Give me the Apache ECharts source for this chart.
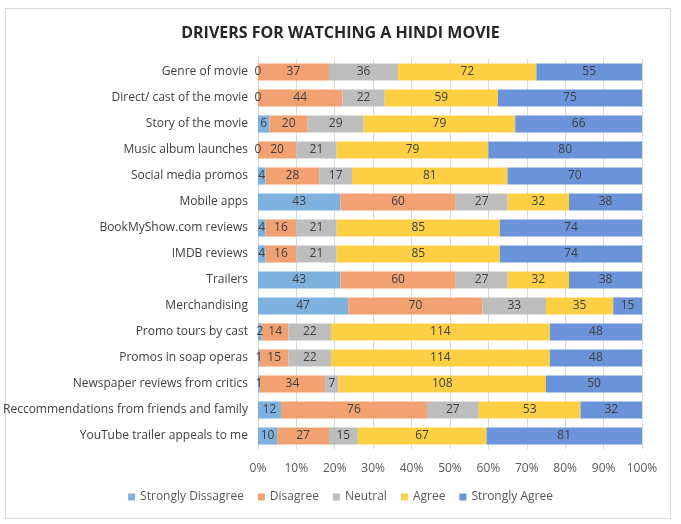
<!DOCTYPE html>
<html style="height: 100%">
<head>
<meta charset="utf-8">
</head>
<body style="height: 100%; margin: 0; background: #fff">
<div id="frame" style="position:absolute; left:5px; top:8px; width:666px; height:511px; border:1px solid #d9d9d9; box-sizing:border-box"></div>
<div id="container" style="position:absolute; left:0; top:0; width:681px; height:524px"></div>
<script type="text/javascript" src="https://cdn.jsdelivr.net/npm/echarts@6/dist/echarts.min.js"></script>
<script type="text/javascript">
var categories = [
    'Genre of movie',
    'Direct/ cast of the movie',
    'Story of the movie',
    'Music album launches',
    'Social media promos',
    'Mobile apps',
    'BookMyShow.com reviews',
    'IMDB reviews',
    'Trailers',
    'Merchandising',
    'Promo tours by cast',
    'Promos in soap operas',
    'Newspaper reviews from critics',
    'Reccommendations from friends and family',
    'YouTube trailer appeals to me'
];
var stronglyDisagree = [0, 0, 6, 0, 4, 43, 4, 4, 43, 47, 2, 1, 1, 12, 10];
var disagree         = [37, 44, 20, 20, 28, 60, 16, 16, 60, 70, 14, 15, 34, 76, 27];
var neutral          = [36, 22, 29, 21, 17, 27, 21, 21, 27, 33, 22, 22, 7, 27, 15];
var agree            = [72, 59, 79, 79, 81, 32, 85, 85, 32, 35, 114, 114, 108, 53, 67];
var stronglyAgree    = [55, 75, 66, 80, 70, 38, 74, 74, 38, 15, 48, 48, 50, 32, 81];
var seriesNames = ['Strongly Dissagree', 'Disagree', 'Neutral', 'Agree', 'Strongly Agree'];
var colors = ['#7fb1df', '#f2a272', '#bdbdbd', '#fdcf45', '#6b93da'];

var raw = [stronglyDisagree, disagree, neutral, agree, stronglyAgree];
var totals = categories.map(function (c, i) {
    return raw.reduce(function (s, arr) { return s + arr[i]; }, 0);
});

var dom = document.getElementById('container');
var myChart = echarts.init(dom);

var series = raw.map(function (arr, k) {
    return {
        name: seriesNames[k],
        type: 'bar',
        stack: 'total',
        barWidth: '66%',
        itemStyle: { color: colors[k] },
        label: {
            show: true,
            position: 'inside',
            color: '#404040',
            fontSize: 12,
            fontFamily: 'Open Sans',
            formatter: function (p) { return arr[p.dataIndex]; }
        },
        data: arr.map(function (v, i) { return v / totals[i] * 100; })
    };
});

var option = {
    animation: false,
    title: {
        text: 'DRIVERS FOR WATCHING A HINDI MOVIE',
        left: 'center',
        top: 20,
        textStyle: {
            fontFamily: 'Open Sans',
            fontSize: 16,
            fontWeight: 'bold',
            color: '#262626'
        }
    },
    legend: {
        bottom: 16,
        left: 'center',
        itemWidth: 7,
        itemHeight: 7,
        itemGap: 14,
        icon: 'rect',
        textStyle: { color: '#595959', fontSize: 12, fontFamily: 'Open Sans' },
        data: seriesNames
    },
    grid: {
        left: 256,
        right: 39,
        top: 59,
        bottom: 75,
        containLabel: false
    },
    xAxis: {
        type: 'value',
        min: 0,
        max: 100,
        interval: 10,
        axisLabel: {
            formatter: '{value}%',
            color: '#595959',
            fontSize: 12,
            fontFamily: 'Open Sans',
            margin: 14
        },
        axisLine: { show: false },
        axisTick: { show: false },
        splitLine: { lineStyle: { color: '#d9d9d9' } }
    },
    yAxis: {
        type: 'category',
        inverse: true,
        data: categories,
        axisLabel: {
            color: '#404040',
            fontSize: 12,
            fontFamily: 'Open Sans',
            margin: 10
        },
        axisLine: { lineStyle: { color: '#d9d9d9' } },
        axisTick: { show: false }
    },
    series: series
};

myChart.setOption(option, true);
</script>
</body>
</html>
